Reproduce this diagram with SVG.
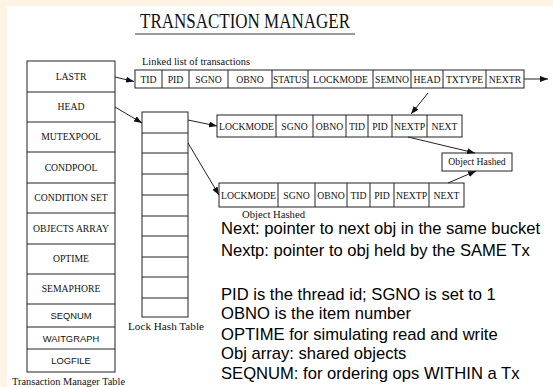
<svg xmlns="http://www.w3.org/2000/svg" width="553" height="387" viewBox="0 0 553 387">
<style>
.bx{fill:#fff;stroke:#222;stroke-width:1}
.ln{fill:none;stroke:#222;stroke-width:1}
.t{font-family:"Liberation Serif","Times New Roman",serif;font-size:9.7px;fill:#111;text-anchor:middle}
.s{font-family:"Liberation Sans",Arial,sans-serif;font-size:9.4px;fill:#111;text-anchor:middle}
.cap{font-family:"Liberation Serif","Times New Roman",serif;fill:#111}
.note{font-family:"Liberation Sans",Arial,sans-serif;font-size:16.6px;fill:#000}
.con{fill:none;stroke:#222;stroke-width:1;marker-end:url(#ah)}
</style>
<defs>
<marker id="ah" markerUnits="userSpaceOnUse" markerWidth="8" markerHeight="6" refX="8" refY="3" orient="auto">
<path d="M0,0 L8,3 L0,6 z" fill="#111"/>
</marker>
</defs>
<rect x="0" y="0" width="553" height="387" fill="#FFF3E6"/>
<rect x="7" y="6" width="546" height="381" fill="#fff"/>

<g id="title">
<text class="cap" x="140" y="28" font-size="21" textLength="210" lengthAdjust="spacingAndGlyphs">TRANSACTION MANAGER</text>
<line x1="135" y1="34" x2="355" y2="34" stroke="#999" stroke-width="2"/>
</g>

<g id="tm-table">
<rect class="bx" x="27" y="61" width="88" height="311"/>
<path class="ln" d="M27,92H115M27,122H115M27,152H115M27,183H115M27,213H115M27,244H115M27,274H115M27,304H115M27,327H115M27,349H115"/>
<text class="t" x="71" y="80">LASTR</text>
<text class="t" x="71" y="110">HEAD</text>
<text class="t" x="71" y="140">MUTEXPOOL</text>
<text class="t" x="71" y="171">CONDPOOL</text>
<text class="t" x="71" y="201">CONDITION SET</text>
<text class="t" x="71" y="232">OBJECTS ARRAY</text>
<text class="t" x="71" y="262">OPTIME</text>
<text class="t" x="71" y="292">SEMAPHORE</text>
<text class="s" x="71" y="319">SEQNUM</text>
<text class="s" x="71" y="341.5">WAITGRAPH</text>
<text class="s" x="71" y="364">LOGFILE</text>
<text class="cap" x="12" y="385" font-size="11" textLength="113" lengthAdjust="spacingAndGlyphs">Transaction Manager Table</text>
</g>

<g id="lock-hash-table">
<rect class="bx" x="142" y="112" width="46" height="205"/>
<path class="ln" d="M142,133H188M142,153H188M142,174H188M142,195H188M142,216H188M142,236H188M142,257H188M142,277H188M142,298H188"/>
<text class="cap" x="128" y="330" font-size="11" textLength="76" lengthAdjust="spacingAndGlyphs">Lock Hash Table</text>
</g>

<g id="transaction-list">
<text class="cap" x="142" y="65" font-size="11" textLength="108" lengthAdjust="spacingAndGlyphs">Linked list of transactions</text>
<rect class="bx" x="135" y="70" width="389" height="18"/>
<path class="ln" d="M162,70V88M189,70V88M228,70V88M272,70V88M308,70V88M373,70V88M411,70V88M443,70V88M486,70V88"/>
<text class="t" x="148.5" y="82.5">TID</text>
<text class="t" x="175.5" y="82.5">PID</text>
<text class="t" x="208.5" y="82.5">SGNO</text>
<text class="t" x="250" y="82.5">OBNO</text>
<text class="t" x="290" y="82.5" textLength="34" lengthAdjust="spacingAndGlyphs">STATUS</text>
<text class="t" x="340.5" y="82.5">LOCKMODE</text>
<text class="t" x="392" y="82.5">SEMNO</text>
<text class="t" x="427" y="82.5">HEAD</text>
<text class="t" x="464.5" y="82.5">TXTYPE</text>
<text class="t" x="505" y="82.5">NEXTR</text>
</g>

<g id="lock-record-1">
<rect class="bx" x="217" y="115" width="245" height="22"/>
<path class="ln" d="M276,115V137M313,115V137M346,115V137M368,115V137M392,115V137M427,115V137"/>
<text class="t" x="246.5" y="129.5">LOCKMODE</text>
<text class="t" x="294.5" y="129.5">SGNO</text>
<text class="t" x="329.5" y="129.5">OBNO</text>
<text class="t" x="357" y="129.5">TID</text>
<text class="t" x="380" y="129.5">PID</text>
<text class="t" x="409.5" y="129.5">NEXTP</text>
<text class="t" x="444.5" y="129.5">NEXT</text>
</g>

<g id="object-hashed-box">
<rect class="bx" x="442" y="153" width="70" height="18"/>
<text class="t" x="477" y="165.3">Object Hashed</text>
</g>

<g id="lock-record-2">
<rect class="bx" x="219" y="183" width="245" height="24"/>
<path class="ln" d="M278,183V207M315,183V207M347,183V207M370,183V207M394,183V207M429,183V207"/>
<text class="t" x="248.5" y="198.5">LOCKMODE</text>
<text class="t" x="296.5" y="198.5">SGNO</text>
<text class="t" x="331" y="198.5">OBNO</text>
<text class="t" x="358.5" y="198.5">TID</text>
<text class="t" x="382" y="198.5">PID</text>
<text class="t" x="411.5" y="198.5">NEXTP</text>
<text class="t" x="446.5" y="198.5">NEXT</text>
<text class="cap" x="242" y="218" font-size="10.6" textLength="63" lengthAdjust="spacingAndGlyphs">Object Hashed</text>
</g>

<g id="connectors">
<line class="con" x1="115" y1="77" x2="134" y2="81.5"/>
<line class="con" x1="115" y1="107" x2="142" y2="123"/>
<line class="con" x1="524" y1="79" x2="548" y2="79"/>
<line class="con" x1="428" y1="93" x2="411" y2="114"/>
<line class="con" x1="188" y1="120" x2="217" y2="126"/>
<line class="con" x1="188" y1="143" x2="219" y2="195"/>
<line class="con" x1="408" y1="137" x2="475" y2="153"/>
<line class="con" x1="448" y1="183" x2="476" y2="171"/>
</g>

<g id="notes">
<text class="note" x="221" y="234">Next: pointer to next obj in the same bucket</text>
<text class="note" x="221" y="256">Nextp: pointer to obj held by the SAME Tx</text>
<text class="note" x="221" y="300">PID is the thread id; SGNO is set to 1</text>
<text class="note" x="221" y="319">OBNO is the item number</text>
<text class="note" x="221" y="340">OPTIME for simulating read and write</text>
<text class="note" x="221" y="359">Obj array: shared objects</text>
<text class="note" x="221" y="379">SEQNUM: for ordering ops WITHIN a Tx</text>
</g>
</svg>
